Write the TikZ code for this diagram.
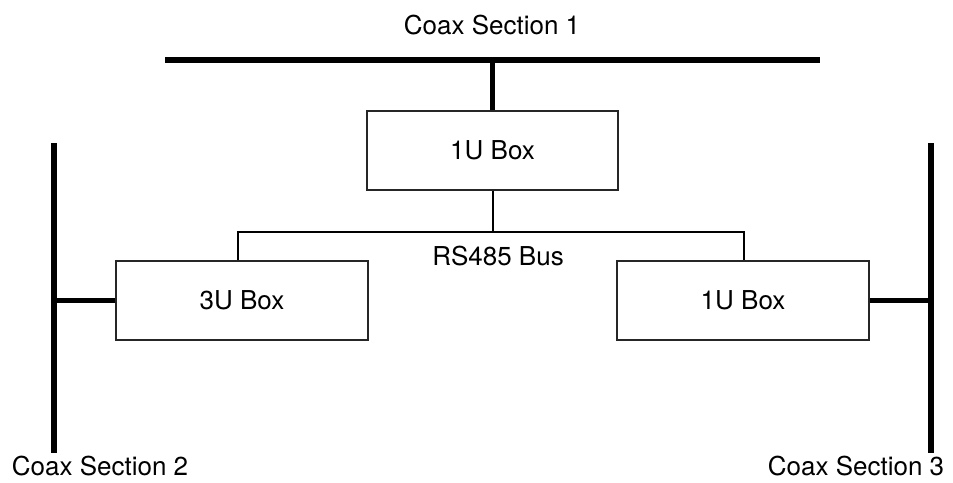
\documentclass[tikz,border=0pt]{standalone}
\usepackage{fontspec}
\setmainfont{TeX Gyre Heros}
\usepackage{tikz}
\usetikzlibrary{positioning}
\tikzset{
  lbl/.style   ={font=\fontsize{26}{30}\selectfont, inner sep=0pt},
  unitbox/.style={draw=black!85, line width=1.1pt, minimum height=79pt,
                  inner sep=0pt, font=\fontsize{26}{30}\selectfont},
  coax/.style  ={line width=5.5pt, black},
  bus/.style   ={line width=2pt, black},
}
\begin{document}
\begin{tikzpicture}[x=1pt, y=-1pt]
  \useasboundingbox (0,0) rectangle (953,482);
  % ---- coax sections
  \coordinate (c1a) at (165,60);
  \coordinate (c1b) at (820,60);
  \coordinate (c2a) at (54,143);
  \coordinate (c2b) at (54,453);
  \coordinate (c3a) at (931,143);
  \coordinate (c3b) at (931,453);
  \draw[coax] (c1a) -- (c1b);
  \draw[coax] (c2a) -- (c2b);
  \draw[coax] (c3a) -- (c3b);
  \node[lbl] (t1) at (492,25)  {Coax Section 1};
  \node[lbl] (t2) at (100,466) {Coax Section 2};
  \node[lbl] (t3) at (856,466) {Coax Section 3};
  % ---- boxes
  \node[unitbox, minimum width=251pt] (top) at (492.5,150.5) {1U Box};
  \node[unitbox, minimum width=252pt] (left) at (242,300.5) {3U Box};
  \node[unitbox, minimum width=252pt] (right) at (743,300.5) {1U Box};
  % ---- taps onto the coax
  \draw[coax] (top.north) -- (top.north |- c1a);
  \draw[coax] (left.west) -- (left.west -| c2a);
  \draw[coax] (right.east) -- (right.east -| c3a);
  % ---- RS485 bus
  \coordinate (busL) at (238,232);
  \coordinate (busR) at (744,232);
  \draw[bus] (top.south) -- (top.south |- busL);
  \draw[bus] (left.north -| busL) -- (busL) -- (busR) -- (right.north -| busR);
  \node[lbl] (rs) at (498,256) {RS485 Bus};
\end{tikzpicture}
\end{document}
